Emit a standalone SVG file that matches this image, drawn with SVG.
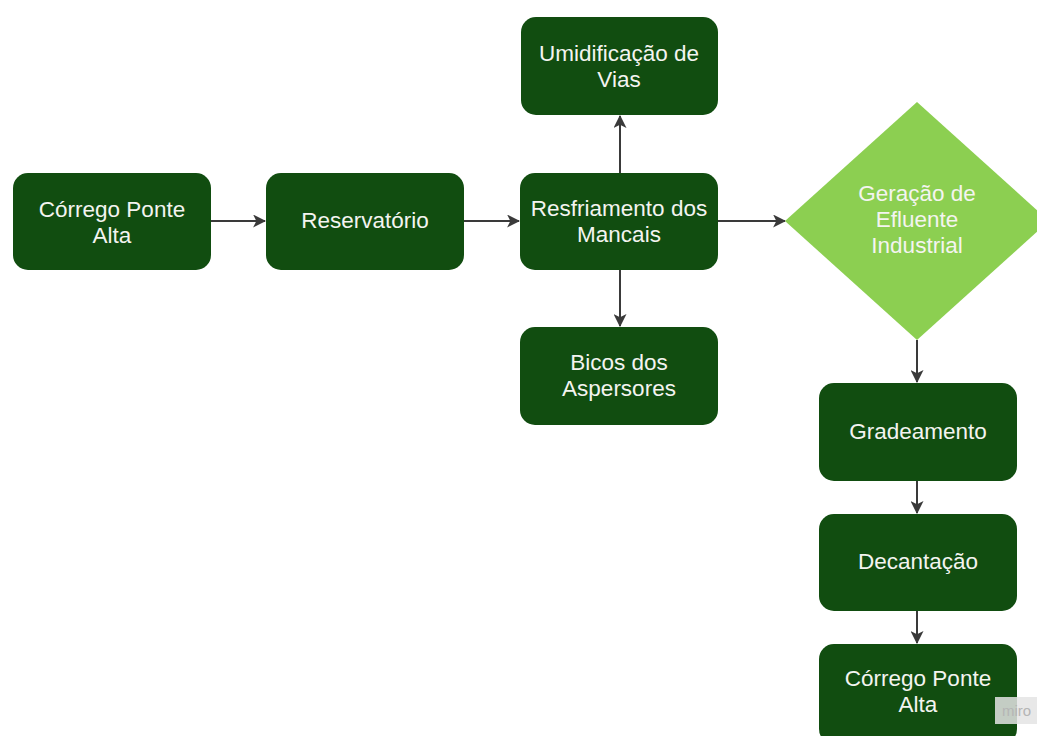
<svg xmlns="http://www.w3.org/2000/svg" width="1037" height="736" viewBox="0 0 1037 736">
<style>
.box{fill:#114d10;}
.dia{fill:#8ccf51;}
.t{font-family:"Liberation Sans",Arial,sans-serif;font-size:22.5px;fill:#f4f4f0;text-anchor:middle;}
.c{stroke:#3a3a3a;stroke-width:2;fill:none;marker-end:url(#ah);}
</style>
<defs>
<marker id="ah" viewBox="0 0 12 12" refX="11" refY="6" markerWidth="13" markerHeight="13" markerUnits="userSpaceOnUse" orient="auto">
<path d="M0,0 L12,6 L0,12 L3,6 z" fill="#3a3a3a"/>
</marker>
</defs>
<rect width="1037" height="736" fill="#ffffff"/>
<g id="connectors">
<line class="c" x1="211" y1="221" x2="265" y2="221"/>
<line class="c" x1="464" y1="221" x2="519" y2="221"/>
<line class="c" x1="718" y1="221" x2="785" y2="221"/>
<line class="c" x1="620" y1="173" x2="620" y2="116"/>
<line class="c" x1="620" y1="270" x2="620" y2="326"/>
<line class="c" x1="917" y1="340" x2="917" y2="382"/>
<line class="c" x1="917" y1="481" x2="917" y2="513"/>
<line class="c" x1="917" y1="611" x2="917" y2="643"/>
</g>
<g id="n1"><rect class="box" x="13" y="173" width="198" height="97" rx="15"/><text class="t" x="112" y="217">Córrego Ponte</text><text class="t" x="112" y="243">Alta</text></g>
<g id="n2"><rect class="box" x="266" y="173" width="198" height="97" rx="15"/><text class="t" x="365" y="228">Reservatório</text></g>
<g id="n3"><rect class="box" x="520" y="173" width="198" height="97" rx="15"/><text class="t" x="619" y="216">Resfriamento dos</text><text class="t" x="619" y="242">Mancais</text></g>
<g id="n4"><rect class="box" x="521" y="17" width="197" height="98" rx="15"/><text class="t" x="619" y="61">Umidificação de</text><text class="t" x="619" y="87">Vias</text></g>
<g id="n5"><rect class="box" x="520" y="327" width="198" height="98" rx="15"/><text class="t" x="619" y="370">Bicos dos</text><text class="t" x="619" y="396">Aspersores</text></g>
<g id="n6"><polygon class="dia" points="917,102 1049,221 917,340 785,221"/><text class="t" x="917" y="201">Geração de</text><text class="t" x="917" y="227">Efluente</text><text class="t" x="917" y="253">Industrial</text></g>
<g id="n7"><rect class="box" x="819" y="383" width="198" height="98" rx="15"/><text class="t" x="918" y="439">Gradeamento</text></g>
<g id="n8"><rect class="box" x="819" y="514" width="198" height="97" rx="15"/><text class="t" x="918" y="569">Decantação</text></g>
<g id="n9"><rect class="box" x="819" y="644" width="198" height="100" rx="15"/><text class="t" x="918" y="686">Córrego Ponte</text><text class="t" x="918" y="712">Alta</text></g>
<g id="watermark"><rect x="995" y="697" width="42" height="27" fill="#e4e4e4" opacity="0.85"/><text x="1002" y="716" font-family="Liberation Sans,Arial,sans-serif" font-size="15" fill="#b5b5b5">miro</text></g>
</svg>
